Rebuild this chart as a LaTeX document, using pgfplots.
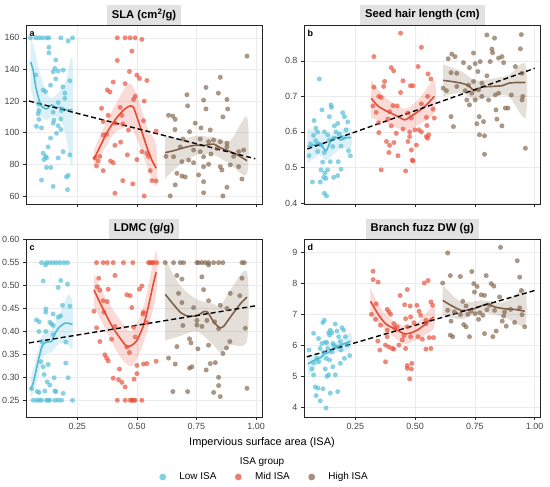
\documentclass[border=0pt]{standalone}
\usepackage{fontspec}
\setmainfont{Liberation Sans}
\usepackage{pgfplots}
\pgfplotsset{compat=1.18}
\definecolor{lowc}{HTML}{4DBBD5}
\definecolor{midc}{HTML}{E64B35}
\definecolor{highc}{HTML}{7E6148}
\definecolor{stripg}{HTML}{E2E2E2}
\definecolor{gridg}{HTML}{EBEBEB}
\tikzset{
  ttl/.style={fill=stripg, font=\bfseries\fontsize{11.3}{13}\selectfont, inner xsep=5bp, minimum height=20bp, anchor=south},
  lett/.style={font=\bfseries\fontsize{9}{10}\selectfont, anchor=base west, inner sep=0pt, xshift=3.5bp, yshift=-11.5bp},
}
\pgfplotsset{
  panel/.style={scale only axis, anchor=south west,
    xmin=0.035, xmax=1.025, xtick={0.25,0.5,0.75,1},
    grid=major, major grid style={color=gridg, line width=0.6bp},
    axis line style={color=black!85, line width=0.9bp},
    tick pos=left, tick align=outside, major tick length=3bp,
    tick style={color=black!85, line width=0.6bp},
    ticklabel style={font=\fontsize{9}{10}\selectfont, color=black!72},
    /pgf/number format/assume math mode=true,
    legend image code/.code={\fill[##1] (-3bp,0bp) circle (3.4bp); \path (-6.4bp,0bp) (11.7bp,0bp);},
  },
  pts/.style={only marks, color=#1, mark=*, mark size=2.5bp, mark options={fill=#1, draw=#1, fill opacity=0.66, draw opacity=0, line width=0pt}, forget plot},
  rib/.style={fill=#1, fill opacity=0.2, draw=none, forget plot, smooth, tension=0.5},
  sm/.style={color=#1, line width=1.6bp, forget plot, smooth, tension=0.35},
  fit/.style={black, dash pattern=on 5bp off 3bp, line width=1.4bp, forget plot},
}
\begin{document}
\begin{tikzpicture}
\path[use as bounding box] (0,0) rectangle (550bp,487bp);

% ---------------- panel a : SLA
\begin{axis}[panel, at={(26bp,283bp)}, width=236bp, height=179bp,
  ymin=54.9, ymax=168.1, ytick={60,80,100,120,140,160}, xticklabels={}]
\addplot[pts=lowc] coordinates {(0.054,160)(0.076,160)(0.090,160)(0.104,160)(0.121,160)(0.131,160)(0.181,160)(0.230,160)(0.212,158)
(0.131,154)(0.131,150.5)(0.160,146)(0.156,140.6)(0.149,138.5)(0.170,139)(0.191,139.6)(0.219,132.8)(0.160,134)(0.138,130)(0.190,129)(0.107,127)(0.117,126)(0.198,125)(0.198,121.7)(0.076,136.4)(0.089,118)(0.170,119)(0.089,114)(0.086,112)(0.149,113)(0.184,114)(0.089,108.4)(0.152,108)(0.181,108.6)(0.079,104)(0.100,103)(0.149,106)(0.170,104.4)(0.163,99.6)(0.181,102)(0.138,96.6)(0.128,91)(0.107,87)(0.117,85)(0.121,84)(0.110,83)(0.191,88)(0.170,84)(0.219,86)(0.121,78)(0.139,78)(0.100,70)(0.149,66)(0.205,72)(0.212,73)(0.209,64)};
\addplot[pts=midc] coordinates {(0.418,160)(0.451,160)(0.472,160)(0.493,160)(0.521,159)(0.479,151.6)(0.418,145.7)(0.469,138.7)(0.500,136.4)(0.511,134.3)(0.542,133)(0.401,132)(0.451,131)(0.376,127)(0.387,125.7)(0.531,120)(0.493,123)(0.486,121)(0.352,115.4)(0.430,116)(0.380,111)(0.437,111)(0.359,107)(0.408,106)(0.441,105.5)(0.528,107.6)(0.373,99)(0.359,98.5)(0.581,101)(0.465,101.7)(0.408,92)(0.432,94)(0.324,84)(0.338,82)(0.345,85)(0.331,79)(0.359,76)(0.390,82)(0.401,81)(0.460,86)(0.500,83)(0.521,88)(0.542,87)(0.549,85)(0.556,76)(0.563,69.7)(0.581,69.5)(0.441,69.7)(0.483,67.6)(0.408,61.7)(0.531,60)};
\addplot[pts=highc] coordinates {(0.962,148.4)(0.850,135)(0.790,128.6)(0.710,124)(0.713,117)(0.780,120.6)(0.842,125)(0.878,121)(0.881,115)(0.861,110)(0.790,115)(0.633,111)(0.651,110.5)(0.661,108.4)(0.660,102)(0.721,100.6)(0.745,106)(0.769,103)(0.808,101.7)(0.682,91)(0.693,96)(0.738,89)(0.766,88)(0.766,96)(0.801,94.3)(0.822,95.4)(0.850,94.3)(0.878,93.3)(0.622,85)(0.654,84.8)(0.689,81.7)(0.717,82.7)(0.738,81)(0.780,84.8)(0.811,86.5)(0.836,90)(0.878,91)(0.927,88)(0.948,89)(0.906,85)(0.668,74.3)(0.689,72.6)(0.703,72)(0.759,73.3)(0.780,78.5)(0.801,80)(0.850,78.5)(0.857,76.4)(0.892,79.6)(0.927,78.5)(0.661,67)(0.780,69)(0.780,62)(0.878,65.5)(0.941,70.7)(0.640,60)(0.861,60)};
\addplot[rib=lowc] coordinates {(0.054,160)(0.065,156)(0.090,140)(0.121,125)(0.142,122)(0.163,124)(0.184,128)(0.205,134)(0.230,146)
(0.230,80)(0.205,96)(0.184,107)(0.163,110)(0.142,110)(0.121,108)(0.090,112)(0.065,122)(0.054,129)};
\addplot[rib=midc] coordinates {(0.320,89)(0.373,107)(0.408,117)(0.444,127)(0.472,131)(0.500,124)(0.542,104)(0.581,92)
(0.581,66)(0.542,79)(0.500,96)(0.472,104)(0.444,103)(0.408,100)(0.373,92)(0.320,78)};
\addplot[rib=highc] coordinates {(0.619,98)(0.682,96)(0.752,98)(0.822,97)(0.892,95)(0.962,110)
(0.962,74)(0.892,80)(0.822,86)(0.752,86)(0.682,80)(0.619,71)};
\addplot[sm=lowc] coordinates {(0.054,144.8)(0.065,139.6)(0.076,129)(0.090,120.6)(0.100,116.8)(0.121,115)(0.142,117.5)(0.163,116)(0.184,116)(0.205,114.3)(0.230,114.7)};
\addplot[sm=midc] coordinates {(0.320,83.2)(0.345,91)(0.373,99.6)(0.408,108)(0.444,114.3)(0.469,116.8)(0.486,116)(0.514,103.8)(0.542,91)(0.563,82.7)(0.581,77.5)};
\addplot[sm=highc] coordinates {(0.619,87.4)(0.654,88.6)(0.710,91)(0.752,92.2)(0.780,91.8)(0.822,92.8)(0.850,90.5)(0.892,88)(0.927,85.5)(0.962,82.3)};
\addplot[fit] coordinates {(0.048,120)(0.997,83.5)};
\node[lett] at (rel axis cs:0,1) {a};
\end{axis}

% ---------------- panel b : seed hair length
\begin{axis}[panel, at={(304bp,283bp)}, width=236.7bp, height=179bp,
  ymin=0.397, ymax=0.901, ytick={0.4,0.5,0.6,0.7,0.8}, xticklabels={},
  yticklabel style={/pgf/number format/.cd, fixed, fixed zerofill, precision=1}]
\addplot[pts=lowc] coordinates {(0.099,0.749)(0.148,0.676)(0.150,0.669)(0.110,0.662)(0.197,0.654)(0.077,0.632)(0.141,0.643)(0.204,0.643)(0.176,0.624)(0.218,0.628)(0.092,0.60)(0.120,0.60)(0.162,0.617)(0.075,0.59)(0.084,0.61)(0.134,0.592)(0.183,0.593)(0.211,0.606)(0.063,0.566)(0.106,0.563)(0.141,0.577)(0.159,0.582)(0.197,0.584)(0.056,0.533)(0.092,0.545)(0.120,0.542)(0.155,0.559)(0.229,0.533)(0.221,0.547)(0.113,0.515)(0.145,0.516)(0.178,0.516)(0.106,0.493)(0.134,0.493)(0.190,0.495)(0.122,0.484)(0.117,0.472)(0.127,0.469)(0.159,0.472)(0.176,0.477)(0.070,0.459)(0.103,0.459)(0.120,0.427)(0.129,0.42)(0.169,0.60)(0.084,0.575)(0.190,0.56)};
\addplot[pts=midc] coordinates {(0.439,0.878)(0.526,0.838)(0.327,0.812)(0.400,0.781)(0.410,0.772)(0.512,0.784)(0.554,0.763)(0.566,0.749)(0.372,0.742)(0.449,0.744)(0.368,0.728)(0.327,0.726)(0.480,0.73)(0.491,0.73)(0.439,0.711)(0.348,0.70)(0.323,0.673)(0.407,0.674)(0.425,0.673)(0.526,0.679)(0.552,0.70)(0.358,0.697)(0.393,0.657)(0.337,0.655)(0.470,0.653)(0.484,0.639)(0.575,0.664)(0.580,0.639)(0.547,0.641)(0.347,0.626)(0.386,0.636)(0.400,0.617)(0.449,0.608)(0.421,0.596)(0.498,0.606)(0.515,0.606)(0.526,0.60)(0.547,0.587)(0.557,0.592)(0.348,0.598)(0.380,0.573)(0.393,0.562)(0.411,0.57)(0.470,0.573)(0.477,0.60)(0.477,0.587)(0.505,0.563)(0.552,0.582)(0.390,0.542)(0.428,0.533)(0.484,0.549)(0.488,0.521)(0.491,0.518)(0.358,0.493)(0.460,0.49)(0.549,0.618)};
\addplot[pts=highc] coordinates {(0.800,0.873)(0.832,0.864)(0.944,0.874)(0.821,0.833)(0.824,0.823)(0.849,0.808)(0.863,0.812)(0.744,0.822)(0.940,0.834)(0.638,0.806)(0.653,0.819)(0.667,0.812)(0.702,0.795)(0.772,0.798)(0.814,0.798)(0.870,0.795)(0.650,0.767)(0.674,0.765)(0.727,0.781)(0.751,0.792)(0.762,0.77)(0.800,0.758)(0.919,0.784)(0.947,0.765)(0.617,0.723)(0.631,0.716)(0.674,0.728)(0.723,0.732)(0.744,0.742)(0.709,0.716)(0.779,0.737)(0.737,0.709)(0.765,0.718)(0.716,0.69)(0.727,0.676)(0.751,0.69)(0.779,0.70)(0.807,0.69)(0.835,0.704)(0.849,0.709)(0.902,0.704)(0.838,0.662)(0.877,0.667)(0.888,0.667)(0.947,0.69)(0.950,0.70)(0.650,0.643)(0.660,0.615)(0.768,0.643)(0.786,0.629)(0.842,0.636)(0.863,0.617)(0.758,0.623)(0.769,0.592)(0.790,0.589)(0.790,0.537)(0.961,0.554)};
\addplot[rib=lowc] coordinates {(0.049,0.61)(0.099,0.60)(0.129,0.59)(0.190,0.605)(0.232,0.61)
(0.232,0.555)(0.190,0.555)(0.129,0.52)(0.099,0.535)(0.049,0.51)};
\addplot[rib=midc] coordinates {(0.316,0.745)(0.379,0.695)(0.456,0.665)(0.512,0.69)(0.580,0.745)
(0.580,0.655)(0.512,0.62)(0.456,0.605)(0.379,0.625)(0.316,0.64)};
\addplot[rib=highc] coordinates {(0.617,0.79)(0.695,0.77)(0.751,0.745)(0.821,0.75)(0.891,0.76)(0.961,0.79)
(0.961,0.64)(0.891,0.70)(0.821,0.70)(0.751,0.69)(0.695,0.71)(0.617,0.70)};
\addplot[sm=lowc] coordinates {(0.049,0.559)(0.078,0.563)(0.099,0.57)(0.117,0.554)(0.129,0.547)(0.148,0.577)(0.169,0.585)(0.190,0.577)(0.211,0.584)(0.232,0.584)};
\addplot[sm=midc] coordinates {(0.316,0.695)(0.344,0.673)(0.379,0.659)(0.414,0.648)(0.456,0.634)(0.484,0.645)(0.512,0.657)(0.547,0.676)(0.580,0.70)};
\addplot[sm=highc] coordinates {(0.617,0.745)(0.652,0.742)(0.695,0.737)(0.723,0.73)(0.748,0.716)(0.779,0.726)(0.821,0.728)(0.863,0.73)(0.891,0.737)(0.919,0.739)(0.961,0.739)};
\addplot[fit] coordinates {(0.049,0.552)(1.0,0.779)};
\node[lett] at (rel axis cs:0,1) {b};
\end{axis}

% ---------------- panel c : LDMC
\begin{axis}[panel, at={(26bp,70bp)}, width=236bp, height=178bp,
  ymin=0.2135, ymax=0.6015, ytick={0.25,0.30,0.35,0.40,0.45,0.50,0.55,0.60},
  yticklabel style={/pgf/number format/.cd, fixed, fixed zerofill, precision=2},
  xticklabel style={/pgf/number format/.cd, fixed, fixed zerofill, precision=2},
  legend style={at={(1.0106,-0.337)}, anchor=center, draw=none, fill=none,
    font=\fontsize{10}{12}\selectfont, legend columns=3,
    /tikz/every even column/.append style={column sep=16.4bp}},
  legend cell align=left]
\addplot[pts=lowc] coordinates {(0.100,0.55)(0.121,0.55)(0.135,0.55)(0.149,0.55)(0.163,0.55)(0.177,0.55)(0.194,0.55)(0.209,0.55)(0.117,0.545)
(0.107,0.51)(0.181,0.511)(0.170,0.496)(0.209,0.503)(0.188,0.457)(0.219,0.455)(0.079,0.425)(0.090,0.421)(0.118,0.449)(0.118,0.442)(0.149,0.438)(0.170,0.431)(0.180,0.434)(0.089,0.40)(0.118,0.40)(0.135,0.42)(0.142,0.416)(0.149,0.413)(0.149,0.393)(0.202,0.377)(0.100,0.378)(0.097,0.334)(0.107,0.323)(0.111,0.306)(0.128,0.328)(0.153,0.299)(0.202,0.331)(0.212,0.299)(0.124,0.29)(0.135,0.283)(0.058,0.275)(0.082,0.269)(0.090,0.267)(0.114,0.27)(0.156,0.27)(0.160,0.269)(0.191,0.265)
(0.065,0.25)(0.079,0.25)(0.090,0.25)(0.100,0.25)(0.121,0.25)(0.128,0.25)(0.135,0.25)(0.156,0.25)(0.170,0.25)(0.184,0.25)(0.230,0.25)};
\addplot[pts=midc] coordinates {(0.331,0.55)(0.359,0.55)(0.376,0.55)(0.401,0.55)(0.444,0.55)(0.483,0.55)(0.549,0.55)(0.556,0.55)(0.563,0.55)(0.570,0.55)(0.584,0.55)
(0.408,0.522)(0.340,0.516)(0.334,0.497)(0.345,0.49)(0.380,0.492)(0.359,0.467)(0.376,0.465)(0.521,0.499)(0.511,0.492)(0.458,0.48)(0.472,0.478)(0.320,0.444)(0.362,0.442)(0.528,0.442)(0.525,0.438)(0.479,0.452)(0.331,0.408)(0.408,0.411)(0.486,0.409)(0.542,0.419)(0.345,0.378)(0.394,0.383)(0.493,0.388)(0.458,0.366)(0.469,0.354)(0.366,0.349)(0.373,0.342)(0.380,0.336)(0.528,0.329)(0.542,0.33)(0.581,0.335)(0.500,0.326)(0.427,0.318)(0.401,0.298)(0.423,0.295)(0.437,0.289)(0.500,0.308)(0.488,0.296)(0.451,0.279)
(0.418,0.25)(0.451,0.25)(0.472,0.25)(0.479,0.25)(0.486,0.25)(0.493,0.25)(0.521,0.25)};
\addplot[pts=highc] coordinates {(0.619,0.55)(0.654,0.55)(0.682,0.55)(0.696,0.55)(0.752,0.55)(0.759,0.55)(0.773,0.55)(0.787,0.55)(0.801,0.55)(0.822,0.55)(0.843,0.55)(0.861,0.55)(0.941,0.55)(0.951,0.55)(0.801,0.545)
(0.668,0.522)(0.689,0.514)(0.773,0.519)(0.941,0.516)(0.675,0.483)(0.780,0.491)(0.892,0.483)(0.932,0.478)(0.801,0.467)(0.850,0.457)(0.689,0.463)(0.738,0.452)(0.878,0.45)(0.693,0.413)(0.752,0.414)(0.773,0.411)(0.752,0.424)(0.794,0.424)(0.826,0.421)(0.843,0.406)(0.955,0.407)(0.668,0.367)(0.721,0.384)(0.727,0.375)(0.756,0.362)(0.801,0.37)(0.890,0.378)(0.876,0.364)(0.861,0.352)(0.633,0.342)(0.661,0.329)(0.808,0.33)(0.829,0.332)(0.721,0.32)(0.731,0.323)(0.791,0.316)(0.843,0.30)(0.843,0.282)(0.850,0.258)(0.822,0.267)(0.651,0.269)(0.713,0.269)(0.962,0.276)};
\addplot[rib=lowc] coordinates {(0.055,0.30)(0.079,0.345)(0.107,0.395)(0.142,0.405)(0.177,0.44)(0.212,0.48)(0.230,0.46)
(0.230,0.365)(0.212,0.37)(0.177,0.375)(0.142,0.355)(0.107,0.345)(0.079,0.285)(0.055,0.255)};
\addplot[rib=midc] coordinates {(0.320,0.525)(0.373,0.47)(0.430,0.425)(0.479,0.40)(0.528,0.455)(0.581,0.575)
(0.581,0.48)(0.528,0.375)(0.479,0.325)(0.430,0.345)(0.373,0.40)(0.320,0.455)};
\addplot[rib=highc] coordinates {(0.619,0.557)(0.682,0.50)(0.752,0.47)(0.822,0.46)(0.850,0.455)(0.892,0.49)(0.962,0.53)
(0.962,0.38)(0.892,0.37)(0.850,0.355)(0.822,0.37)(0.752,0.40)(0.682,0.39)(0.619,0.38)};
\addplot[sm=lowc] coordinates {(0.055,0.275)(0.065,0.287)(0.076,0.312)(0.090,0.344)(0.104,0.37)(0.121,0.377)(0.142,0.378)(0.156,0.395)(0.174,0.409)(0.198,0.418)(0.212,0.418)(0.230,0.415)};
\addplot[sm=midc] coordinates {(0.320,0.491)(0.345,0.463)(0.373,0.434)(0.401,0.407)(0.430,0.385)(0.458,0.367)(0.479,0.37)(0.500,0.38)(0.528,0.413)(0.549,0.456)(0.570,0.506)(0.581,0.529)};
\addplot[sm=highc] coordinates {(0.619,0.481)(0.647,0.463)(0.682,0.442)(0.710,0.434)(0.752,0.434)(0.780,0.443)(0.797,0.442)(0.822,0.421)(0.847,0.408)(0.864,0.411)(0.892,0.431)(0.934,0.46)(0.962,0.475)};
\addplot[fit] coordinates {(0.048,0.375)(1.0,0.456)};
\node[lett] at (rel axis cs:0,1) {c};
\addlegendimage{draw=none, fill=lowc, fill opacity=0.7}
\addlegendentry{Low ISA}
\addlegendimage{draw=none, fill=midc, fill opacity=0.7}
\addlegendentry{Mid ISA}
\addlegendimage{draw=none, fill=highc, fill opacity=0.7}
\addlegendentry{High ISA}
\end{axis}

% ---------------- panel d : branch fuzz DW
\begin{axis}[panel, at={(304bp,70bp)}, width=236.7bp, height=178bp,
  ymin=3.69, ymax=9.43, ytick={4,5,6,7,8,9},
  xticklabel style={/pgf/number format/.cd, fixed, fixed zerofill, precision=2}]
\addplot[pts=lowc] coordinates {(0.114,6.735)(0.120,6.81)(0.166,6.69)(0.145,6.49)(0.138,6.41)(0.152,6.41)(0.194,6.57)(0.201,6.49)(0.173,6.46)(0.075,6.39)(0.096,6.22)(0.142,6.33)(0.180,6.28)(0.208,6.28)(0.187,6.12)(0.215,6.01)(0.110,6.06)(0.131,6.09)(0.156,6.06)(0.173,5.95)(0.056,5.85)(0.103,5.90)(0.117,5.77)(0.134,5.90)(0.152,5.79)(0.089,5.58)(0.128,5.58)(0.204,5.58)(0.226,5.67)(0.075,5.44)(0.096,5.47)(0.142,5.53)(0.156,5.31)(0.187,5.42)(0.068,5.24)(0.124,5.24)(0.138,5.05)(0.131,5.0)(0.166,5.05)(0.075,5.05)(0.082,4.66)(0.093,4.62)(0.114,4.6)(0.145,4.46)(0.176,4.51)(0.086,4.38)(0.103,4.21)(0.127,3.98)(0.124,6.1)(0.160,6.0)(0.190,5.85)};
\addplot[pts=midc] coordinates {(0.324,8.39)(0.324,8.12)(0.345,8.04)(0.538,8.01)(0.554,8.09)(0.467,7.80)(0.437,7.61)(0.337,7.34)(0.456,7.31)(0.479,7.27)(0.507,7.29)(0.566,7.40)(0.573,7.29)(0.317,7.0)(0.383,7.16)(0.390,7.08)(0.397,7.0)(0.516,7.10)(0.523,6.97)(0.334,6.84)(0.355,6.65)(0.411,6.70)(0.460,6.86)(0.481,6.92)(0.545,6.81)(0.383,6.49)(0.414,6.56)(0.467,6.60)(0.495,6.73)(0.545,6.70)(0.344,6.14)(0.383,6.28)(0.453,6.31)(0.481,6.28)(0.512,6.28)(0.559,6.25)(0.577,6.25)(0.352,5.85)(0.376,6.01)(0.390,5.95)(0.411,5.88)(0.432,6.01)(0.446,6.17)(0.460,5.90)(0.545,5.88)(0.566,5.90)(0.376,5.47)(0.467,5.35)(0.486,5.42)(0.484,5.24)(0.467,5.26)(0.477,4.92)(0.425,6.6)(0.404,5.9)(0.530,6.2)};
\addplot[pts=highc] coordinates {(0.636,8.98)(0.857,9.16)(0.927,8.73)(0.615,8.01)(0.647,8.25)(0.689,8.22)(0.737,8.38)(0.745,7.99)(0.759,7.90)(0.797,8.25)(0.818,7.99)(0.829,7.91)(0.937,8.20)(0.636,7.13)(0.699,7.42)(0.748,7.72)(0.776,7.63)(0.790,7.61)(0.853,7.56)(0.944,7.77)(0.664,7.08)(0.713,7.27)(0.734,7.10)(0.751,7.02)(0.811,7.29)(0.832,7.13)(0.874,7.08)(0.899,7.16)(0.937,7.21)(0.650,6.78)(0.703,6.67)(0.713,6.60)(0.765,6.84)(0.783,6.97)(0.864,6.78)(0.881,6.62)(0.916,6.74)(0.947,6.99)(0.958,6.60)(0.647,6.33)(0.657,6.28)(0.727,6.28)(0.790,6.38)(0.825,6.28)(0.839,6.46)(0.689,6.99)(0.770,7.05)(0.800,7.15)(0.870,6.95)(0.720,7.0)};
\addplot[rib=lowc] coordinates {(0.051,5.70)(0.103,5.72)(0.159,6.05)(0.229,6.40)
(0.229,5.88)(0.159,5.75)(0.103,5.45)(0.051,5.0)};
\addplot[rib=midc] coordinates {(0.313,7.85)(0.348,7.3)(0.397,6.85)(0.456,6.63)(0.509,6.75)(0.577,7.25)
(0.577,6.55)(0.509,6.2)(0.456,6.05)(0.397,6.35)(0.348,6.7)(0.313,7.0)};
\addplot[rib=highc] coordinates {(0.615,7.95)(0.692,7.4)(0.776,7.45)(0.874,7.4)(0.958,7.8)
(0.958,6.65)(0.874,6.9)(0.776,7.05)(0.692,6.85)(0.615,6.95)};
\addplot[sm=lowc] coordinates {(0.051,5.40)(0.075,5.51)(0.103,5.60)(0.124,5.74)(0.138,5.77)(0.159,5.90)(0.187,6.01)(0.212,6.08)(0.229,6.14)};
\addplot[sm=midc] coordinates {(0.313,7.42)(0.327,7.24)(0.348,6.97)(0.376,6.70)(0.397,6.60)(0.425,6.49)(0.456,6.37)(0.481,6.40)(0.509,6.49)(0.537,6.65)(0.577,6.92)};
\addplot[sm=highc] coordinates {(0.615,7.45)(0.650,7.29)(0.692,7.13)(0.734,7.15)(0.776,7.27)(0.804,7.34)(0.832,7.24)(0.874,7.18)(0.916,7.16)(0.958,7.10)};
\addplot[fit] coordinates {(0.047,5.63)(1.0,7.77)};
\node[lett] at (rel axis cs:0,1) {d};
\end{axis}

% titles and labels
\node[ttl] at (144bp,462bp) {SLA (cm\textsuperscript{2}/g)};
\node[ttl] at (422.3bp,462bp) {Seed hair length (cm)};
\node[ttl] at (144bp,248bp) {LDMC (g/g)};
\node[ttl] at (422.3bp,248bp) {Branch fuzz DW (g)};
\node[font=\fontsize{11}{13}\selectfont] at (262bp,44bp) {Impervious surface area (ISA)};
\node[font=\fontsize{10}{12}\selectfont] at (262bp,25bp) {ISA group};
\end{tikzpicture}
\end{document}
